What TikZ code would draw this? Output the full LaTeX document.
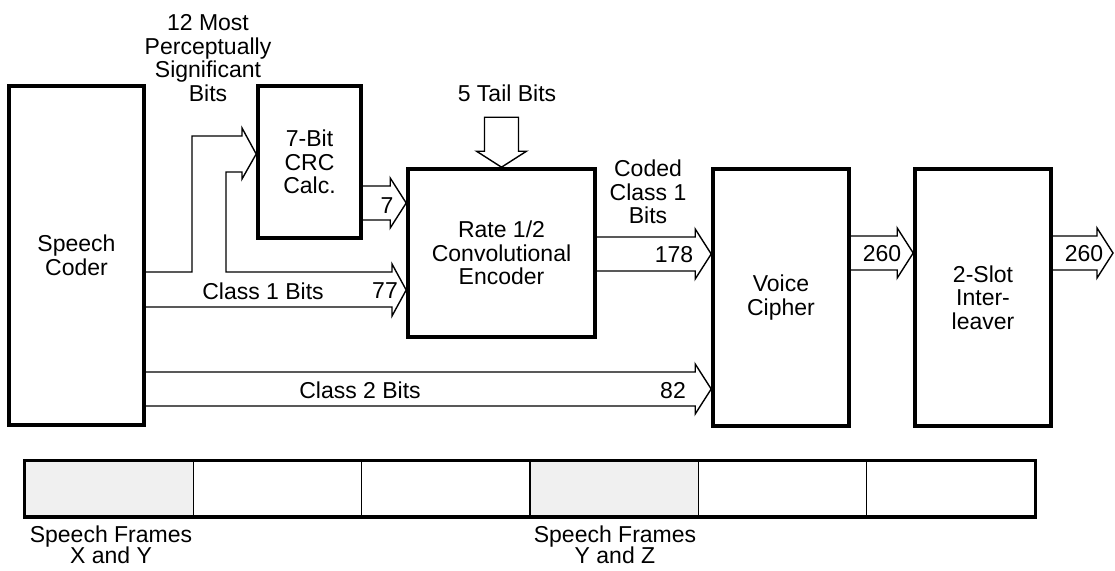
\documentclass[tikz,border=0pt]{standalone}
\usepackage{fontspec}
\setmainfont{Liberation Sans}
\usetikzlibrary{calc}
\tikzset{
  blk/.style={draw, line width=3.6pt, rectangle, align=center, inner sep=0pt},
  lbl/.style={inner sep=0pt, align=center},
  arr/.style={draw, line width=1.4pt, line join=miter},
  cell/.style={draw, line width=1.4pt, rectangle, minimum width=168.33pt, minimum height=55pt, inner sep=0pt},
}
% hollow block arrow: #1 start anchor (x), #2 end anchor (x), #3 y of centre line
\newcommand\barrow[3]{%
  \draw[arr] ($(#1 |- 0,#3)+(0,-17)$) -- ($(#2 |- 0,#3)+(-16,-17)$) -- ++(0,-8)
    -- (#2 |- 0,#3) -- ($(#2 |- 0,#3)+(-16,25)$) -- ++(0,-8)
    -- ($(#1 |- 0,#3)+(0,17)$);}
\begin{document}
\begin{tikzpicture}[x=1pt,y=-1pt, every node/.style={font=\fontsize{23}{23.5}\selectfont}]
\useasboundingbox (0,0) rectangle (1115,570);

% blocks
\node[blk, minimum width=135pt, minimum height=339pt] (spc) at (76.5,255.5) {Speech\\Coder};
\node[blk, minimum width=103pt, minimum height=152pt] (crc) at (309.5,162) {7-Bit\\CRC\\Calc.};
\node[blk, minimum width=187pt, minimum height=168pt] (enc) at (501.5,253) {Rate 1/2\\Convolutional\\Encoder};
\node[blk, minimum width=136pt, minimum height=257pt] (vc) at (781,297.5) {Voice\\Cipher};
\node[blk, minimum width=136pt, minimum height=257pt] (il) at (983,297.5) {2-Slot\\Inter-\\leaver};
\coordinate (out) at (1113,253);

% branching class-1 arrow
\draw[arr] (spc.east |- 0,272) -- (192,272) -- (192,136) -- (242,136) -- (242,128)
  -- (crc.west |- 0,154) -- (242,179) -- (242,172) -- (226,172) -- (226,272)
  -- (392,272) -- (392,264) -- (enc.west |- 0,290) -- (392,316) -- (392,307)
  -- (spc.east |- 0,307);

% simple block arrows
\barrow{crc.east}{enc.west}{203}
\barrow{enc.east}{vc.west}{254}
\barrow{spc.east}{vc.west}{389}
\barrow{vc.east}{il.west}{253}
\barrow{il.east}{out}{253}

% tail bits arrow
\draw[arr] ($(enc.north)+(-17,-50)$) -- ($(enc.north)+(17,-50)$) -- ($(enc.north)+(17,-16)$)
  -- ($(enc.north)+(25,-16)$) -- (enc.north) -- ($(enc.north)+(-25,-16)$)
  -- ($(enc.north)+(-17,-16)$) -- cycle;

% labels
\node[lbl] (l12) at (208,58) {12 Most\\Perceptually\\Significant\\Bits};
\node[lbl] (ltail) at (507,93) {5 Tail Bits};
\node[lbl] (lcoded) at (648,192) {Coded\\Class 1\\Bits};
\node[lbl] (l7) at (387,206) {7};
\node[lbl] (lc1) at (263,291) {Class 1 Bits};
\node[lbl] (l77) at (385,291) {77};
\node[lbl] (l178) at (674,255) {178};
\node[lbl] (lc2) at (360,390) {Class 2 Bits};
\node[lbl] (l82) at (673,391) {82};
\node[lbl] (l260a) at (882,254) {260};
\node[lbl] (l260b) at (1084,254) {260};

% speech frames bar
\foreach \i in {1,...,6} {
  \pgfmathsetmacro\cx{25+168.33*(\i-0.5)}
  \ifnum\i=1 \def\cf{black!6}\else\ifnum\i=4 \def\cf{black!6}\else\def\cf{white}\fi\fi
  \node[cell, fill=\cf] (f\i) at (\cx,488.5) {};
}
\draw[line width=3.6pt] (f1.north west) rectangle (f6.south east);
\node[lbl, font=\fontsize{23}{21.5}\selectfont] (sxy) at (111,545) {Speech Frames\\X and Y};
\node[lbl, font=\fontsize{23}{21.5}\selectfont] (syz) at (615,545) {Speech Frames\\Y and Z};
\end{tikzpicture}
\end{document}
